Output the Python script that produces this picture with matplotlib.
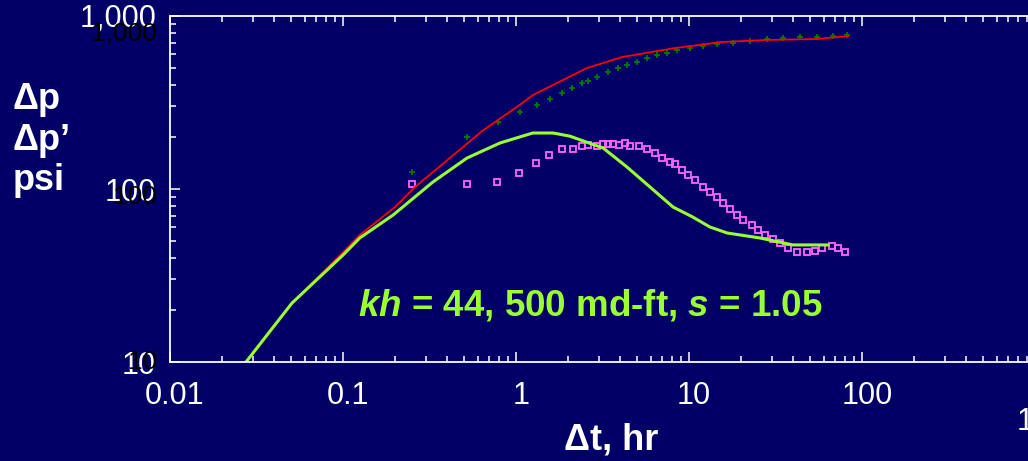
import numpy as np
import matplotlib
matplotlib.use('Agg')
import matplotlib.pyplot as plt
import matplotlib.transforms as mtransforms

# model curves
model_t = [0.0275, 0.0507, 0.1, 0.125, 0.2, 0.261, 0.636, 1.05, 1.25, 2.57, 4.1, 8.3, 15.7, 28.2, 55, 83]
model_dp = [10, 21.9, 43, 54.2, 78.7, 102.7, 216, 306, 349, 500, 579, 653, 708, 727, 736, 766]

deriv_t = [0.0275, 0.0507, 0.1, 0.125, 0.195, 0.331, 0.521, 0.808, 1.25, 1.64, 2.05, 3.19, 4.38,
           5.95, 8.08, 10.5, 13.2, 16.6, 25.7, 39.9, 63.6]
deriv_dp = [10, 21.9, 41.5, 52.1, 70.8, 109.8, 151, 184.5, 210.7, 210.7, 202, 172.5, 134,
            102.7, 78.7, 68.9, 60.3, 55.7, 52.1, 47.5, 47.5]

# measured pressure change
data_t = [0.251, 0.521, 0.787, 1.05, 1.32, 1.57, 1.85, 2.11, 2.41, 2.61, 2.94, 3.40, 3.89, 4.38, 5.0,
          5.72, 6.53, 7.46, 8.53, 10.1, 12.1, 14.5, 18.0, 22.5, 28.2, 34.9, 43.8, 55, 68, 82]
data_dp = [125, 200, 244, 279, 306, 331, 359, 384, 410, 421, 444, 474, 500, 521, 542,
           572, 595, 611, 636, 653, 671, 689, 698, 717, 736, 746, 757, 757, 766, 776]

# measured derivative
der_t = [0.251, 0.521, 0.777, 1.04, 1.31, 1.55, 1.85, 2.13, 2.41, 2.61, 2.94, 3.18, 3.40, 3.64, 3.94,
         4.27, 4.56, 5.14, 5.72, 6.36, 6.98, 7.76, 8.30, 9.12, 9.86, 10.8, 12.1, 13.2, 14.5, 15.7,
         17.3, 18.9, 20.5, 23.1, 25.1, 27.5, 30.6, 33.6, 37.4, 42.1, 48.1, 53.5, 58.7, 67.1, 72.6, 79.8]
der_dp = [107, 107, 110, 124, 141, 157, 170, 170, 177, 180, 177, 182, 182, 182, 180,
          185, 177, 177, 170, 161, 151, 143, 140, 129, 121, 113, 103, 96, 90, 83,
          76.6, 70.8, 66.2, 61.9, 57.9, 54.2, 51.4, 48.7, 45.6, 43.2, 43.2, 43.9, 45.6, 46.9, 45.6, 43.2]

xticks = [0.01, 0.1, 1, 10, 100]
xlabels = ['0.01', '0.1', '1', '10', '100']
yticks = [10, 100, 1000]
ylabels = ['10', '100', '1,000']

bg = '#000066'
plt.rcParams['font.family'] = ['Liberation Sans', 'DejaVu Sans']
plt.rcParams['mathtext.fontset'] = 'custom'
plt.rcParams['mathtext.it'] = 'Liberation Sans:italic:bold'
plt.rcParams['mathtext.rm'] = 'Liberation Sans:bold'

fig = plt.figure(figsize=(10.28, 4.61), dpi=100, facecolor=bg)
# axis runs out to 1000 hr, past the right edge of the slide
ax = fig.add_axes([170/1028, 99/461, 865/1028, 346/461], facecolor=bg)
ax.set_xscale('log')
ax.set_yscale('log')
ax.set_xlim(0.01, 1000)
ax.set_ylim(10, 1000)

ax.plot(data_t, data_dp, ls='none', marker='+', ms=5, mew=1.3, color='#007a00')
ax.plot(der_t, der_dp, ls='none', marker='s', ms=4, mfc='none', mew=1.3, color='#ff66ff')
ax.plot(model_t, model_dp, color='#ff0000', lw=1.3)
ax.plot(deriv_t, deriv_dp, color='#99ff33', lw=2.2)

for s in ['left', 'bottom', 'top']:
    ax.spines[s].set_color('white')
    ax.spines[s].set_linewidth(1.3)
ax.spines['right'].set_visible(False)

ax.set_xticks(xticks, xlabels)
ax.set_yticks(yticks, ylabels)
ax.tick_params(which='both', direction='in', top=True, right=False, colors='white',
               labelsize=22, width=1.1)
ax.tick_params(which='major', length=7)
ax.tick_params(which='minor', length=4)
ax.tick_params(axis='x', which='both', pad=14)
ax.tick_params(axis='y', which='both', pad=10)
for t in ax.xaxis.get_major_ticks() + ax.xaxis.get_minor_ticks():
    t.tick2line.set_color('black')
offset = mtransforms.ScaledTranslation(5/100, 0, fig.dpi_scale_trans)
for lab in ax.get_xticklabels():
    lab.set_transform(lab.get_transform() + offset)

# black ghost labels behind the y tick labels
ghost = [(33, '1,000'), (197, '100'), (362, '10')]
for py, txt in ghost:
    fig.text(157/1028, 1 - py/461, txt, color='black', fontsize=19, ha='right', va='center', zorder=0)

# partly hidden 1000 label at the right edge
fig.text(1017/1028, 1 - 422/461, '1000', color='white', fontsize=22, ha='left', va='center')

fig.text(13/1028, 1 - 140/461, 'Δp\nΔp’\npsi', color='white', fontsize=26, fontweight='bold',
         ha='left', va='center', linespacing=1.2)
fig.text(611/1028, 1 - 440/461, 'Δt, hr', color='white', fontsize=26, fontweight='bold',
         ha='center', va='center')
fig.text(358/1028, 1 - 305/461, '$kh$ = 44, 500 md-ft, $s$ = 1.05', color='#99ff33',
         fontsize=26.5, fontweight='bold', ha='left', va='center')

fig.savefig('out.png', dpi=100, facecolor=bg)
